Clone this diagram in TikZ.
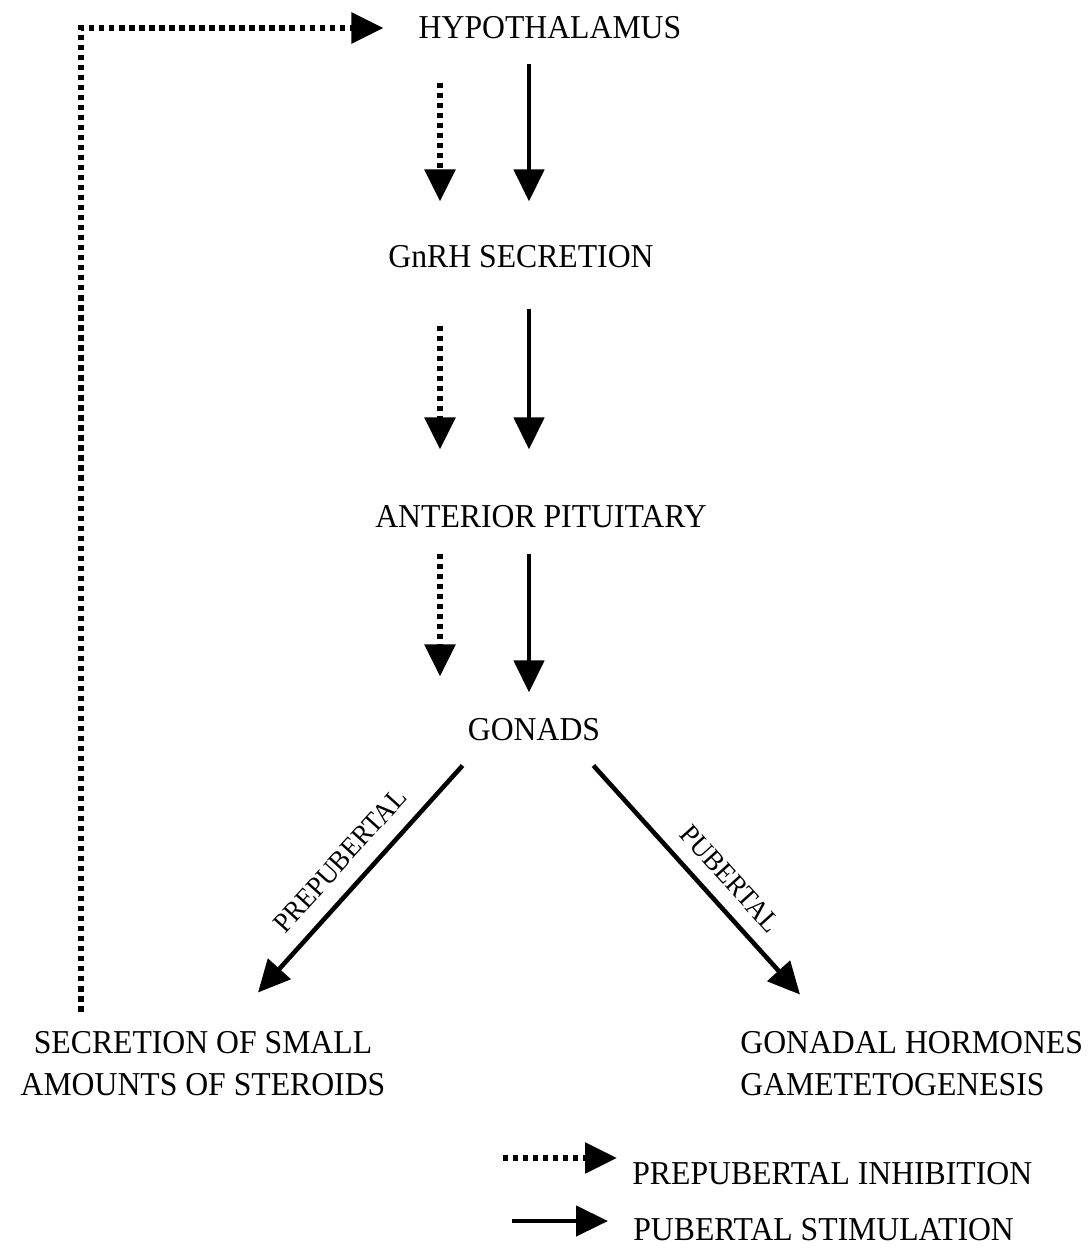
\documentclass[tikz,border=0pt]{standalone}
\usepackage{fontspec}
\setmainfont{Liberation Serif}[FakeStretch=0.95]
\usetikzlibrary{arrows.meta}
\tikzset{
        textnode/.style={align=center,inner sep=0pt},
        % Stage nodes
        node_stage/.style={textnode, font=\fontsize{19}{23.8}\selectfont},
        % Phase labels on the gonad arrows
        node_phase/.style={textnode, font=\fontsize{16}{19}\selectfont},
        % Pubertal stimulation
        arrow_stim/.style={line width=2.6pt, -{Triangle[width=0.6cm,length=0.64cm]}},
        % Prepubertal inhibition
        arrow_inhib/.style={line width=3.2pt, dash pattern=on 3pt off 2.7pt, -{Triangle[width=0.6cm,length=0.64cm]}}
}
\begin{document}
\begin{tikzpicture}[x=0.02cm, y=-0.02cm]
            \useasboundingbox (0,0) rectangle (1092,1249);
            \coordinate (col_inhib) at (440,0);
            \coordinate (col_stim) at (529,0);
            \node[node_stage] (hyp) at (550,28) {HYPOTHALAMUS};
            \node[node_stage] (gnrh) at (521,257) {GnRH SECRETION};
            \node[node_stage] (pit) at (541,517) {ANTERIOR PITUITARY};
            \node[node_stage] (gon) at (534,730) {GONADS};
            \node[node_stage] (ster) at (203,1064) {SECRETION OF SMALL\\AMOUNTS OF STEROIDS};
            \node[node_stage, align=left, anchor=west] (horm) at (740,1064) {GONADAL HORMONES\\GAMETETOGENESIS};
            \node[node_stage, anchor=west] (leg_inhib) at (632,1174) {PREPUBERTAL INHIBITION};
            \node[node_stage, anchor=west] (leg_stim) at (633,1230) {PUBERTAL STIMULATION};
            % hypothalamus -> GnRH
            \draw[arrow_inhib, shorten <=0.86cm, shorten >=0.88cm] (hyp.south -| col_inhib) -- (gnrh.north -| col_inhib);
            \draw[arrow_stim, shorten <=0.48cm, shorten >=0.88cm] (hyp.south -| col_stim) -- (gnrh.north -| col_stim);
            % GnRH -> pituitary
            \draw[arrow_inhib, shorten <=1.14cm, shorten >=1.12cm] (gnrh.south -| col_inhib) -- (pit.north -| col_inhib);
            \draw[arrow_stim, shorten <=0.8cm, shorten >=1.12cm] (gnrh.south -| col_stim) -- (pit.north -| col_stim);
            % pituitary -> gonads
            \draw[arrow_inhib, shorten <=0.5cm, shorten >=0.84cm] (pit.south -| col_inhib) -- (gon.north -| col_inhib);
            \draw[arrow_stim, shorten <=0.5cm, shorten >=0.52cm] (pit.south -| col_stim) -- (gon.north -| col_stim);
            % gonads -> outcomes
            \draw[arrow_stim] ([shift={(-5,24)}]gon.south west) -- ([shift={(55,-39)}]ster.north)
                node[node_phase, midway, sloped, above=9pt] {PREPUBERTAL};
            \draw[arrow_stim] ([shift={(-7,24)}]gon.south east) -- ([shift={(60,-37)}]horm.north west)
                node[node_phase, pos=0.57, sloped, above=8pt] {PUBERTAL};
            % feedback to hypothalamus
            \draw[arrow_inhib, shorten >=0.7cm] ([shift={(61,-20)}]ster.north west) |- (hyp.west);
            % legend
            \draw[arrow_inhib] ([shift={(-129,-16)}]leg_inhib.west) -- ([shift={(-15,-16)}]leg_inhib.west);
            \draw[arrow_stim] ([shift={(-121,-9)}]leg_stim.west) -- ([shift={(-25,-9)}]leg_stim.west);
\end{tikzpicture}
\end{document}
